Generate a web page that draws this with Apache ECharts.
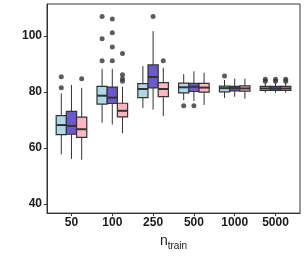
<!DOCTYPE html>
<html>
<head>
<meta charset="utf-8">
<script src="https://cdn.jsdelivr.net/npm/echarts@6/dist/echarts.min.js"></script>
<style>html,body{margin:0;padding:0;background:#fff}#c{width:307px;height:256px}</style>
</head>
<body>
<div id="c"></div>
<script>
// Categories (n_train)
const categories = ['50', '100', '250', '500', '1000', '5000'];
const yTicks = [40, 60, 80, 100];

// Box stats per category: [lower whisker, Q1, median, Q3, upper whisker]
const statsLightBlue = [
  [57.7, 64.8, 68.2, 71.6, 79.5],
  [69.0, 75.7, 78.7, 82.0, 88.3],
  [74.3, 78.0, 81.1, 83.0, 89.3],
  [77.1, 79.7, 81.7, 83.2, 86.4],
  [77.9, 80.1, 81.4, 82.1, 84.3],
  [79.8, 80.6, 81.3, 82.0, 83.3]
];
const statsSlateBlue = [
  [56.1, 64.9, 67.9, 73.1, 82.5],
  [68.4, 75.9, 78.0, 81.8, 88.3],
  [73.7, 81.5, 85.4, 89.7, 101.8],
  [76.8, 80.2, 81.9, 83.1, 87.4],
  [78.3, 80.4, 81.4, 82.0, 84.8],
  [79.8, 80.6, 81.3, 82.0, 83.3]
];
const statsPink = [
  [55.8, 63.8, 66.7, 71.0, 81.5],
  [65.3, 71.1, 73.3, 76.0, 81.9],
  [71.4, 78.4, 81.1, 83.4, 88.7],
  [75.4, 80.0, 81.6, 83.1, 86.9],
  [77.6, 80.3, 81.3, 82.2, 84.8],
  [79.8, 80.6, 81.3, 82.0, 83.3]
];

// Outliers: [category index, value]
const outliersLightBlue = [[0, 85.5], [0, 81.5], [1, 107.0], [1, 99.1], [1, 91.2], [3, 75.1], [4, 85.7], [5, 84.6], [5, 83.9]];
const outliersSlateBlue = [[1, 106.1], [1, 101.2], [1, 96.1], [1, 91.2], [2, 107.0], [3, 75.1], [5, 84.6], [5, 83.9]];
const outliersPink = [[0, 84.8], [1, 93.8], [1, 86.2], [1, 84.8], [1, 83.9], [2, 91.2], [5, 84.6], [5, 83.9]];

const groupStats = [statsLightBlue, statsSlateBlue, statsPink];
const groupOutliers = [outliersLightBlue, outliersSlateBlue, outliersPink];
const groupColors = ['#ADD8E6', '#6A5ACD', '#FFB6C1'];
const groupNames = ['A', 'B', 'C'];

const BOX_W = 0.25;           // dodge width per box (category units)
const OFFSETS = [-0.25, 0, 0.25];
const LINE = '#333333';

const series = [];
groupStats.forEach((stats, g) => {
  const off = OFFSETS[g];
  series.push({
    type: 'custom',
    name: groupNames[g],
    data: stats.map((s, i) => [i + 1 + off].concat(s)),
    encode: { x: 0, y: [1, 2, 3, 4, 5] },
    z: 2,
    renderItem: function (params, api) {
      const x = api.value(0);
      const pLo = api.coord([x, api.value(1)]);
      const pQ1 = api.coord([x, api.value(2)]);
      const pMed = api.coord([x, api.value(3)]);
      const pQ3 = api.coord([x, api.value(4)]);
      const pHi = api.coord([x, api.value(5)]);
      const w = api.size([BOX_W, 0])[0];
      const cx = pMed[0];
      const lineStyle = { stroke: LINE, lineWidth: 1 };
      return {
        type: 'group',
        children: [
          { type: 'line', shape: { x1: cx, y1: pHi[1], x2: cx, y2: pQ3[1] }, style: lineStyle },
          { type: 'line', shape: { x1: cx, y1: pQ1[1], x2: cx, y2: pLo[1] }, style: lineStyle },
          { type: 'rect', shape: { x: cx - w / 2, y: pQ3[1], width: w, height: pQ1[1] - pQ3[1] },
            style: { fill: groupColors[g], stroke: LINE, lineWidth: 1.2 } },
          { type: 'line', shape: { x1: cx - w / 2, y1: pMed[1], x2: cx + w / 2, y2: pMed[1] },
            style: { stroke: LINE, lineWidth: 2 } }
        ]
      };
    }
  });
  series.push({
    type: 'scatter',
    name: groupNames[g] + ' outliers',
    data: groupOutliers[g].map(o => [o[0] + 1 + off, o[1]]),
    symbol: 'circle',
    symbolSize: 5,
    itemStyle: { color: LINE },
    z: 3
  });
});

const chart = echarts.init(document.getElementById('c'), null, { renderer: 'canvas' });
chart.setOption({
  animation: false,
  backgroundColor: '#ffffff',
  grid: { left: 47, right: 7, top: 4, bottom: 39, show: true, borderColor: '#333', borderWidth: 1, containLabel: false },
  xAxis: {
    type: 'value',
    min: 0.4,
    max: 6.6,
    splitLine: { show: false },
    axisLine: { show: true, onZero: false, lineStyle: { color: '#333', width: 1 } },
    axisTick: { show: true, length: 3, customValues: [1, 2, 3, 4, 5, 6], lineStyle: { color: '#333' } },
    axisLabel: {
      customValues: [1, 2, 3, 4, 5, 6],
      formatter: v => categories[Math.round(v) - 1],
      fontFamily: 'Liberation Sans', fontWeight: 'bold', fontSize: 12, color: '#1a1a1a', margin: 4
    },
    name: '{n|n}{s|train}',
    nameLocation: 'middle',
    nameGap: 11,
    nameTextStyle: {
      rich: {
        n: { fontFamily: 'Liberation Sans', fontSize: 14, lineHeight: 15, color: '#1a1a1a', verticalAlign: 'top' },
        s: { fontFamily: 'Liberation Sans', fontSize: 10, lineHeight: 10, color: '#1a1a1a', verticalAlign: 'top', padding: [7, 0, 0, 0] }
      }
    }
  },
  yAxis: {
    type: 'value',
    min: 36.7,
    max: 111.5,
    splitLine: { show: false },
    axisLine: { show: true, onZero: false, lineStyle: { color: '#333', width: 1 } },
    axisTick: { show: true, length: 3, customValues: yTicks, lineStyle: { color: '#333' } },
    axisLabel: {
      customValues: yTicks,
      fontFamily: 'Liberation Sans', fontWeight: 'bold', fontSize: 12, color: '#1a1a1a', margin: 5
    }
  },
  series: series
});
</script>
</body>
</html>
